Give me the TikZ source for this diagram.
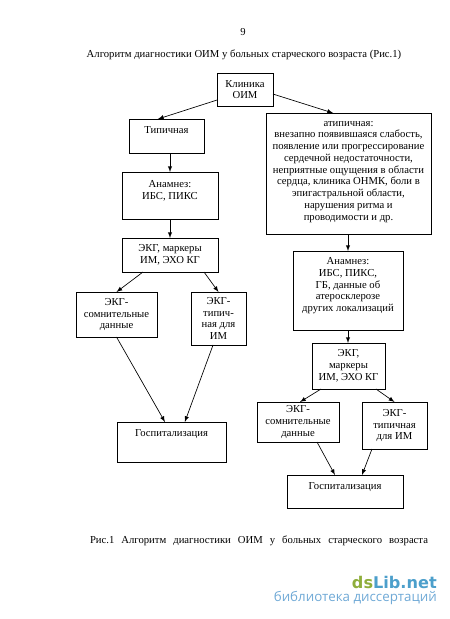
\documentclass[tikz,border=0pt]{standalone}
\usepackage{fontspec}
\setmainfont{Liberation Serif}
\newfontfamily\wmfont{DejaVu Sans}
\newfontfamily\wmsub{Open Sans}
\usetikzlibrary{positioning,arrows}
\definecolor{wmgreen}{HTML}{8FAE3C}
\definecolor{wmblue}{HTML}{4C9FCB}
\definecolor{wmsoft}{HTML}{6FA9D6}
\tikzstyle{fbox}=[rectangle, draw=black, line width=0.6pt, align=center, inner sep=0pt, outer sep=0pt,
                  font=\fontsize{8}{8.8}\selectfont]
\tikzstyle{fline}=[-latex, line width=0.5pt]
\tikzstyle{ftext}=[inner sep=0pt, font=\fontsize{8}{8.8}\selectfont]

\begin{document}
\begin{tikzpicture}[x=0.75pt,y=-0.75pt]
\useasboundingbox (0,0) rectangle (450,619);

\node (PAGENO) [ftext] at (243,32) {9};
\node (TITLE) [ftext] at (244,55) {Алгоритм диагностики ОИМ у больных старческого возраста (Рис.1)};

\node (CLIN) [fbox, minimum width=42pt, minimum height=24.75pt] at (245,89.5) {Клиника\\ОИМ};

% left branch
\node (TYP) [fbox, minimum width=56.25pt, minimum height=25.5pt, below=9.75pt of CLIN, xshift=-58.875pt] {Типичная\\ \mbox{}};
\node (ANAML) [fbox, minimum width=72pt, minimum height=35.25pt, below=14.25pt of TYP, xshift=2.625pt] {Анамнез:\\ИБС, ПИКС\\ \mbox{}};
\node (EKGL) [fbox, minimum width=72pt, minimum height=25.5pt, below=14.25pt of ANAML] {ЭКГ, маркеры\\ИМ, ЭХО КГ};
\node (DOUBTL) [fbox, minimum width=60.75pt, minimum height=33.75pt, below=15pt of EKGL, xshift=-40.125pt] {ЭКГ-\\сомнительные\\данные};
\node (TYPICL) [fbox, minimum width=41.25pt, minimum height=39.75pt, below=15pt of EKGL, xshift=36.375pt] {ЭКГ-\\типич-\\ная для\\ИМ};
\node (HOSPL) [fbox, minimum width=81.75pt, minimum height=30pt, below=57.75pt of TYPICL, xshift=-35.25pt] {Госпитализация\\ \mbox{}\\[-4.5pt] \mbox{}};

% right branch
\node (ATYP) [fbox, minimum width=123.75pt, minimum height=90.75pt, below=5.25pt of CLIN, xshift=77.625pt] {атипичная:\\внезапно появившаяся слабость,\\появление или прогрессирование\\сердечной недостаточности,\\неприятные ощущения в области\\сердца, клиника ОНМК, боли в\\эпигастральной области,\\нарушения ритма и\\проводимости и др.\\[-4.5pt] \mbox{}};
\node (ANAMR) [fbox, minimum width=82.5pt, minimum height=59.25pt, below=12.75pt of ATYP, xshift=-0.375pt] {Анамнез:\\ИБС, ПИКС,\\ГБ, данные об\\атеросклерозе\\других локализаций\\ \mbox{}};
\node (EKGR) [fbox, minimum width=54.75pt, minimum height=34.5pt, below=9.75pt of ANAMR, xshift=0.375pt] {ЭКГ,\\маркеры\\ИМ, ЭХО КГ};
\node (DOUBTR) [fbox, minimum width=61.5pt, minimum height=30pt, below=9.75pt of EKGR, xshift=-37.875pt] {ЭКГ-\\сомнительные\\данные};
\node (TYPICR) [fbox, minimum width=48.75pt, minimum height=35.25pt, below=9.75pt of EKGR, xshift=34.5pt] {ЭКГ-\\типичная\\для ИМ};
\node (HOSPR) [fbox, minimum width=87pt, minimum height=24.75pt, below=19.5pt of TYPICR, xshift=-37.125pt] {Госпитализация\\ \mbox{}};

\draw[fline] ([yshift=-7.9pt]CLIN.west) -- ([xshift=-6.4pt]TYP.north);
\draw[fline] ([yshift=-3.4pt]CLIN.east) -- ([xshift=-11.6pt]ATYP.north);
\draw[fline] (TYP.south -| ANAML.north) -- (ANAML.north);
\draw[fline] (ANAML.south) -- (EKGL.north);
\draw[fline] ([xshift=-20.25pt]EKGL.south) -- (DOUBTL.north);
\draw[fline] ([xshift=25.5pt]EKGL.south) -- (TYPICL.north);
\draw[fline] (DOUBTL.south) -- ([xshift=-4.9pt]HOSPL.north);
\draw[fline] ([xshift=-4.1pt]TYPICL.south) -- ([xshift=10pt]HOSPL.north);
\draw[fline] (ATYP.south -| ANAMR.north) -- (ANAMR.north);
\draw[fline] (ANAMR.south) -- (ANAMR.south |- EKGR.north);
\draw[fline] ([xshift=-20.6pt]EKGR.south) -- ([xshift=1.5pt]DOUBTR.north);
\draw[fline] ([xshift=20.6pt]EKGR.south) -- (TYPICR.north);
\draw[fline] ([xshift=14.25pt]DOUBTR.south) -- ([xshift=-7.5pt]HOSPR.north);
\draw[fline] ([xshift=-16.9pt]TYPICR.south) -- ([xshift=12.75pt]HOSPR.north);

\node (CAPTION) [ftext] at (259,541) {\makebox[253.5pt][s]{Рис.1 \ Алгоритм \ диагностики \ ОИМ \ у \ больных \ старческого \ возраста}};

% watermark
\node (WMARK) [inner sep=0pt, anchor=east, font=\wmfont\bfseries\fontsize{12.1}{12.1}\selectfont] at (437,582) {\textcolor{wmgreen}{ds}\textcolor{wmblue}{Lib.net}};
\node (WMSUB) [inner sep=0pt, anchor=east, text=wmsoft, font=\wmsub\fontsize{10}{10}\selectfont] at (437,598) {библиотека диссертаций};

\end{tikzpicture}
\end{document}
